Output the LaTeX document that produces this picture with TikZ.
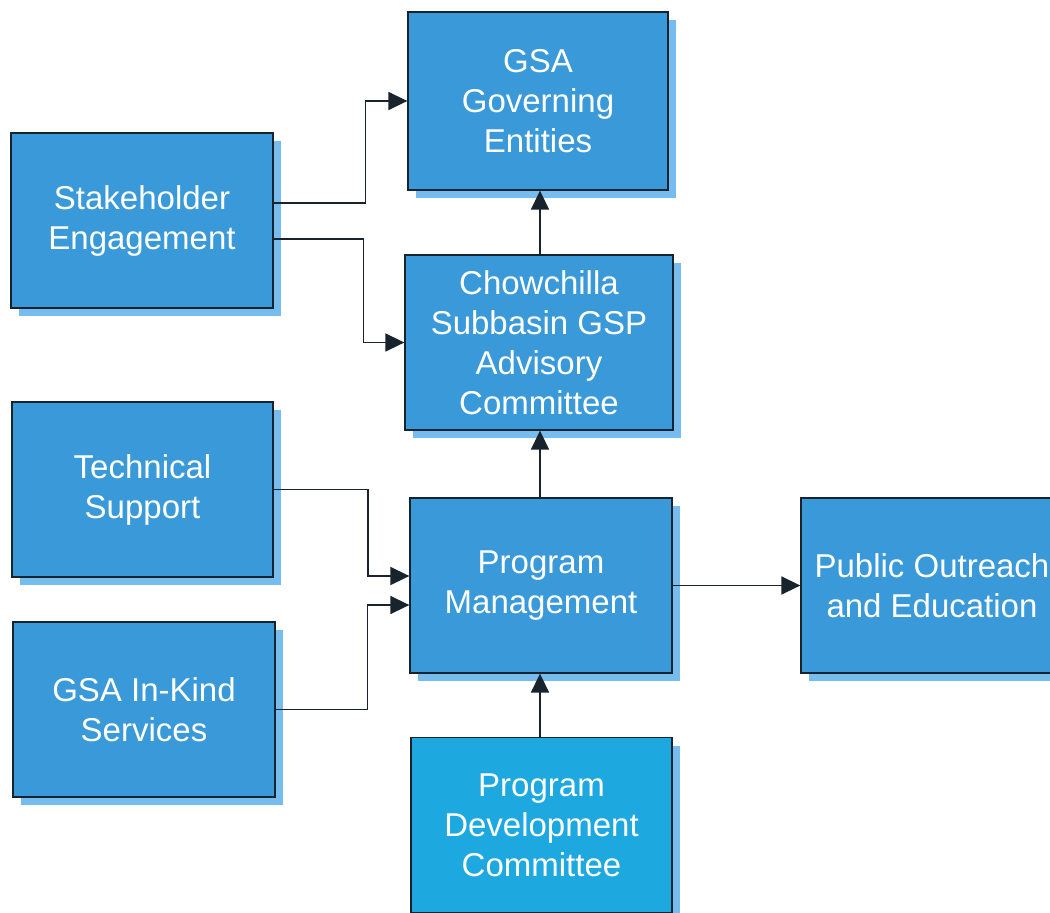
\documentclass[tikz,border=0pt]{standalone}
\usepackage{fontspec}
\setmainfont{Liberation Sans}
\usetikzlibrary{arrows.meta,shadows}
\definecolor{boxblue}{RGB}{58,154,217}
\definecolor{devblue}{RGB}{30,168,224}
\definecolor{shadeblue}{RGB}{118,188,238}
\definecolor{edge}{RGB}{25,35,45}
\tikzset{
  unit/.style={draw=edge, line width=1.3pt, fill=boxblue, text=white,
    minimum width=262pt, minimum height=175pt, inner sep=0pt,
    align=center, font=\fontsize{33}{40}\selectfont,
    drop shadow={shadow xshift=8pt, shadow yshift=-8pt, fill=shadeblue, opacity=1}},
  link/.style={draw=edge, line width=1.6pt,
    -{Triangle[length=19pt,width=18pt]}}
}
\begin{document}
\begin{tikzpicture}[x=1pt,y=-1pt]
\useasboundingbox (0,0) rectangle (1050,913);
\fill[white] (0,0) rectangle (1050,913);

% boxes
\node[unit, minimum width=260pt, minimum height=178pt] (gov) at (538,101) {GSA\\Governing\\Entities};
\node[unit] (stake) at (142,220.5) {Stakeholder\\Engagement};
\node[unit, minimum width=268pt] (chow) at (539,342.5) {Chowchilla\\Subbasin GSP\\Advisory\\Committee};
\node[unit, minimum width=261pt] (tech) at (142.5,489.5) {Technical\\Support};
\node[unit] (inkind) at (144,709.5) {GSA In-Kind\\Services};
\node[unit] (pm) at (541,585.5) {Program\\Management};
\node[unit] (pub) at (932,585.5) {Public Outreach\\and Education};
\node[unit, fill=devblue, minimum width=261pt] (pdc) at (541.5,825) {Program\\Development\\Committee};

% connectors
\coordinate (spine) at (540,0);
\draw[link] ([yshift=17.5pt]stake.east) -- ++(92,0) |- (gov.west);
\draw[link] ([yshift=-18.5pt]stake.east) -- ++(90,0) |- (chow.west);
\draw[link] (spine |- chow.north) -- (spine |- gov.south);
\draw[link] (spine |- pm.north) -- (spine |- chow.south);
\draw[link] (tech.east) -- ++(94.5,0) |- ([yshift=9.5pt]pm.west);
\draw[link] (inkind.east) -- ++(92,0) |- ([yshift=-19.5pt]pm.west);
\draw[link] (pm.east) -- (pub.west);
\draw[link] (spine |- pdc.north) -- (spine |- pm.south);
\end{tikzpicture}
\end{document}
